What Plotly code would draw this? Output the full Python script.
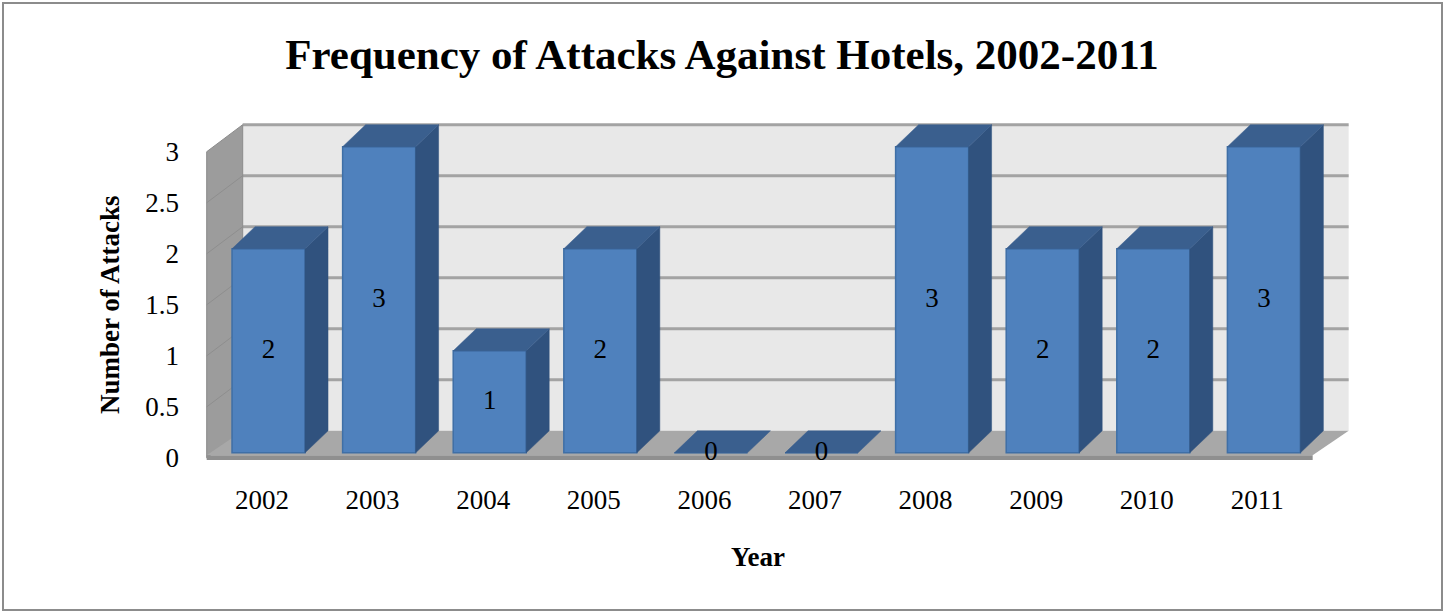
import plotly.graph_objects as go

# ---------------- data ----------------
years = ["2002", "2003", "2004", "2005", "2006", "2007", "2008", "2009", "2010", "2011"]
attacks = [2, 3, 1, 2, 0, 0, 3, 2, 2, 3]
y_tick_vals = [0, 0.5, 1, 1.5, 2, 2.5, 3]
y_tick_text = ["0", "0.5", "1", "1.5", "2", "2.5", "3"]

# ---------------- layout / 3-D look constants ----------------
W, H = 1444, 612
ML, MR, MT, MB = 200, 84, 115, 147
X_RANGE = [-0.5606, 9.928]
Y_RANGE = [-0.07, 3.36]

WALL_DX, WALL_DY = 0.3255, 0.265      # depth offset of the back wall
BAR_W = 0.66
BAR_SHIFT = 0.059                      # bars sit a little behind the front plane
BAR_BASE = 0.049
BAR_DX, BAR_DY = 0.208, 0.216          # depth of each bar
Y_TOP = 3
FONT = "Liberation Serif"

C_FRONT = "#4F81BD"
C_EDGE = "#3F6FA6"
C_TOP = "#3A5F8E"
C_SIDE = "#30527E"

n = len(years)
xs = list(range(n))
x_left, x_right = -0.5, n - 0.5

plot_w = W - ML - MR
plot_h = H - MT - MB


def px_to_paper_x(px):
    return (px - ML) / plot_w


def px_to_paper_y(py):
    return (H - MB - py) / plot_h


def path(pts):
    return "M " + " L ".join(f"{a:.4f},{b:.4f}" for a, b in pts) + " Z"


shapes = []
# back wall
shapes.append(dict(type="path", xref="x", yref="y", layer="below",
                   path=path([(x_left + WALL_DX, WALL_DY), (x_right + WALL_DX, WALL_DY),
                              (x_right + WALL_DX, Y_TOP + WALL_DY), (x_left + WALL_DX, Y_TOP + WALL_DY)]),
                   fillcolor="#E8E8E8", line=dict(width=0)))
# back wall gridlines
for v in y_tick_vals[1:]:
    shapes.append(dict(type="line", xref="x", yref="y", layer="below",
                       x0=x_left + WALL_DX, x1=x_right + WALL_DX, y0=v + WALL_DY, y1=v + WALL_DY,
                       line=dict(color="#A3A3A3", width=3)))
# left wall
shapes.append(dict(type="path", xref="x", yref="y", layer="below",
                   path=path([(x_left, 0), (x_left, Y_TOP), (x_left + WALL_DX, Y_TOP + WALL_DY),
                              (x_left + WALL_DX, WALL_DY)]),
                   fillcolor="#9C9C9C", line=dict(color="#8A8A8A", width=1)))
for v in y_tick_vals[1:-1]:
    shapes.append(dict(type="line", xref="x", yref="y", layer="below",
                       x0=x_left, x1=x_left + WALL_DX, y0=v, y1=v + WALL_DY,
                       line=dict(color="#8E8E8E", width=1)))
# floor (top surface + front edge)
shapes.append(dict(type="path", xref="x", yref="y", layer="below",
                   path=path([(x_left, 0.025), (x_right, 0.025), (x_right + WALL_DX, WALL_DY),
                              (x_left + WALL_DX, WALL_DY)]),
                   fillcolor="#A8A8A8", line=dict(width=0)))
shapes.append(dict(type="path", xref="x", yref="y", layer="below",
                   path=path([(x_left, -0.02), (x_right, -0.02), (x_right, 0.025), (x_left, 0.025)]),
                   fillcolor="#8F8F8F", line=dict(width=0)))
# outer border of the chart
shapes.append(dict(type="rect", xref="paper", yref="paper", layer="above",
                   x0=px_to_paper_x(3), x1=px_to_paper_x(1442),
                   y0=px_to_paper_y(610), y1=px_to_paper_y(3),
                   line=dict(color="#8C8C8C", width=2)))

# ---------------- bar faces ----------------
top_x, top_y, side_x, side_y = [], [], [], []
for i, v in zip(xs, attacks):
    x0 = i - BAR_W / 2 + BAR_SHIFT
    x1 = x0 + BAR_W
    yt = BAR_BASE + v
    top_x += [x0, x1, x1 + BAR_DX, x0 + BAR_DX, x0, None]
    top_y += [yt, yt, yt + BAR_DY, yt + BAR_DY, yt, None]
    if v > 0:
        side_x += [x1, x1, x1 + BAR_DX, x1 + BAR_DX, x1, None]
        side_y += [BAR_BASE, yt, yt + BAR_DY, BAR_BASE + BAR_DY, BAR_BASE, None]

fig = go.Figure()
fig.add_trace(go.Bar(x=xs, y=attacks, base=BAR_BASE, width=BAR_W,
                     offset=-BAR_W / 2 + BAR_SHIFT,
                     marker=dict(color=C_FRONT, line=dict(color=C_EDGE, width=1.5)),
                     showlegend=False, hoverinfo="skip"))
fig.add_trace(go.Scatter(x=side_x, y=side_y, mode="lines", fill="toself", fillcolor=C_SIDE,
                         line=dict(color=C_SIDE, width=0.5), showlegend=False, hoverinfo="skip"))
fig.add_trace(go.Scatter(x=top_x, y=top_y, mode="lines", fill="toself", fillcolor=C_TOP,
                         line=dict(color=C_TOP, width=0.5), showlegend=False, hoverinfo="skip"))
fig.add_trace(go.Scatter(x=[i + BAR_SHIFT for i in xs],
                         y=[BAR_BASE + v / 2 for v in attacks],
                         mode="text", text=[str(v) for v in attacks],
                         textfont=dict(family=FONT, size=27, color="black"),
                         showlegend=False, hoverinfo="skip"))

fig.update_layout(
    width=W, height=H,
    margin=dict(l=ML, r=MR, t=MT, b=MB),
    paper_bgcolor="white", plot_bgcolor="white",
    shapes=shapes,
    title=dict(text="<b>Frequency of Attacks Against Hotels, 2002-2011</b>",
               x=0.5, xanchor="center", xref="container", y=1 - 54 / H, yanchor="middle",
               font=dict(family=FONT, size=43, color="black")),
    xaxis=dict(range=X_RANGE, tickvals=xs, ticktext=years, showgrid=False, zeroline=False,
               showline=False, ticks="", ticklabelstandoff=16,
               tickfont=dict(family=FONT, size=27, color="black"), fixedrange=True),
    yaxis=dict(range=Y_RANGE, tickvals=y_tick_vals, ticktext=y_tick_text, showgrid=False,
               zeroline=False, showline=False, ticks="", ticklabelstandoff=20,
               tickfont=dict(family=FONT, size=27, color="black"), fixedrange=True),
    annotations=[
        dict(text="<b>Year</b>", xref="paper", yref="paper", x=px_to_paper_x(758),
             y=px_to_paper_y(557), xanchor="center", yanchor="middle", showarrow=False,
             font=dict(family=FONT, size=27, color="black")),
        dict(text="<b>Number of Attacks</b>", xref="paper", yref="paper", x=px_to_paper_x(110),
             y=px_to_paper_y(305), xanchor="center", yanchor="middle", textangle=-90,
             showarrow=False, font=dict(family=FONT, size=27, color="black")),
    ],
)

fig.write_html("out.html")
